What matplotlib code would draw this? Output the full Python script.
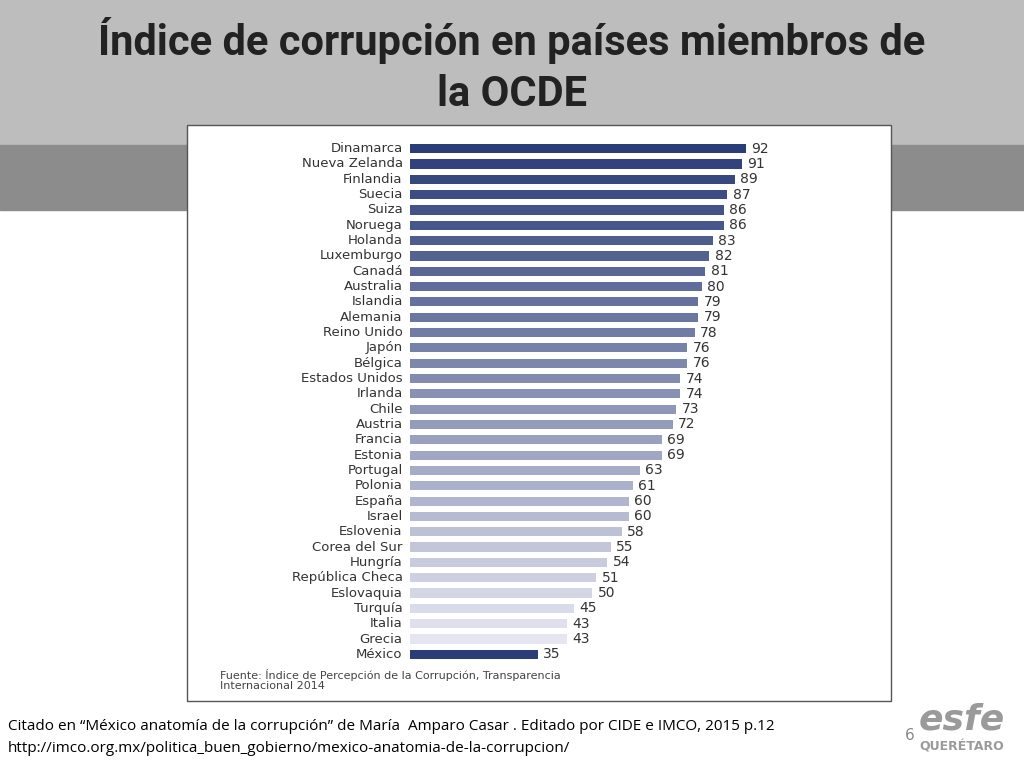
import matplotlib
matplotlib.use("Agg")
import matplotlib.pyplot as plt
from matplotlib.patches import Rectangle
import numpy as np

countries = ["Dinamarca","Nueva Zelanda","Finlandia","Suecia","Suiza","Noruega","Holanda",
             "Luxemburgo","Canadá","Australia","Islandia","Alemania","Reino Unido","Japón",
             "Bélgica","Estados Unidos","Irlanda","Chile","Austria","Francia","Estonia",
             "Portugal","Polonia","España","Israel","Eslovenia","Corea del Sur","Hungría",
             "República Checa","Eslovaquia","Turquía","Italia","Grecia","México"]
values = [92,91,89,87,86,86,83,82,81,80,79,79,78,76,76,74,74,73,72,69,69,63,61,60,60,58,55,54,51,50,45,43,43,35]

W, H = 1024, 768
fig = plt.figure(figsize=(10.24, 7.68), dpi=100)
bg = fig.add_axes([0, 0, 1, 1]); bg.set_xlim(0, W); bg.set_ylim(H, 0); bg.axis("off")
bg.add_patch(Rectangle((0, 0), W, 145, color="#bdbdbd", zorder=0))
bg.add_patch(Rectangle((0, 145), W, 65, color="#8c8c8c", zorder=0))
bg.add_patch(Rectangle((187, 125), 704, 576, facecolor="white", edgecolor="#555555", lw=1, zorder=1))
bg.text(512, 40, "Índice de corrupción en países miembros de", ha="center", va="center",
        fontsize=30, fontweight="bold", family="Roboto", color="#222222")
bg.text(512, 95, "la OCDE", ha="center", va="center",
        fontsize=30, fontweight="bold", family="Roboto", color="#222222")
bg.text(220, 669, "Fuente: Índice de Percepción de la Corrupción, Transparencia\nInternacional 2014",
        ha="left", va="top", fontsize=8, color="#444444", zorder=3, linespacing=1.0)
bg.text(8, 726, "Citado en “México anatomía de la corrupción” de María  Amparo Casar . Editado por CIDE e IMCO, 2015 p.12",
        ha="left", va="center", fontsize=11, family="Open Sans", color="black")
bg.text(8, 748, "http://imco.org.mx/politica_buen_gobierno/mexico-anatomia-de-la-corrupcion/",
        ha="left", va="center", fontsize=11, family="Open Sans", color="black")
bg.text(910, 735, "6", ha="center", va="center", fontsize=11, color="#888888")
bg.text(962, 719, "esfe", ha="center", va="center", fontsize=26, fontweight="bold",
        fontstyle="italic", color="#9a9a9a")
bg.text(962, 747, "QUERÉTARO", ha="center", va="center", fontsize=9, fontweight="bold", color="#9a9a9a")

ax = fig.add_axes([410/W, 1-662/H, 456/W, 521/H])
ax.set_xlim(0, 125); ax.set_ylim(len(values)-0.5, -0.5); ax.axis("off")
n = len(values)
dark = np.array([0.17, 0.24, 0.47]); light = np.array([0.90, 0.90, 0.94])
cols = [tuple(dark + (light-dark)*i/(n-2)) for i in range(n-1)] + [tuple(dark)]
y = np.arange(n)
ax.barh(y, values, height=0.6, color=cols)
for i, (c, v) in enumerate(zip(countries, values)):
    ax.text(-2, i, c, ha="right", va="center", fontsize=9.5, color="#333333")
    ax.text(v + 1.5, i, str(v), ha="left", va="center", fontsize=10, color="#333333")

fig.savefig("out.png", dpi=100)
